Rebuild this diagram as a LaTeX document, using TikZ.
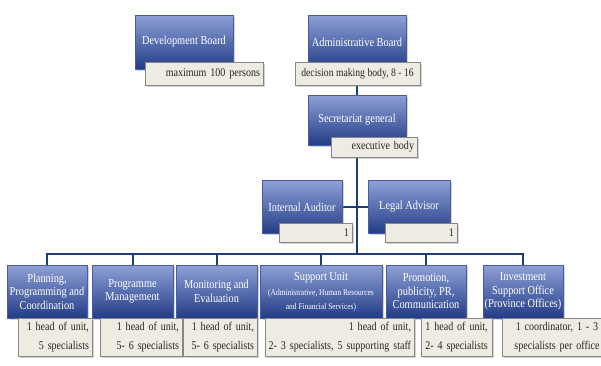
\documentclass[tikz,border=0pt]{standalone}
\usepackage{fontspec}
\setmainfont{Liberation Serif}[FakeStretch=0.85]
\usepackage{tikz}
\usetikzlibrary{positioning, shadows, backgrounds}
\definecolor{unittop}{RGB}{142,160,214}
\definecolor{unitbot}{RGB}{34,60,134}
\definecolor{unitedge}{RGB}{70,94,160}
\definecolor{notefill}{RGB}{237,235,226}
\definecolor{noteedge}{RGB}{135,135,135}
\definecolor{linkblue}{RGB}{30,60,120}
\tikzstyle{unit}=[draw=unitedge, top color=unittop, bottom color=unitbot, text=white, align=center, inner sep=1pt, font=\fontsize{12.2}{13.5}\selectfont, drop shadow={opacity=0.35, shadow xshift=1.5pt, shadow yshift=-1.5pt}]
\tikzstyle{note}=[draw=noteedge, fill=notefill, align=right, inner sep=3pt, text=black!85, font=\fontsize{11.8}{19}\selectfont, drop shadow={opacity=0.35, shadow xshift=1.5pt, shadow yshift=-1.5pt}]
\tikzstyle{link}=[draw=linkblue, line width=2pt]

\begin{document}
\begin{tikzpicture}[x=1pt, y=-1pt]
    \useasboundingbox (0,0) rectangle (601,365);

    % boards
    \node [unit, minimum width=98pt, minimum height=54pt] (dev) at (184,42) {Development Board};
    \node [unit, minimum width=98pt, minimum height=54pt] (adm) at (357,42) {Administrative Board};
    \node [note, text width=112pt, minimum height=23pt] (devnote) at (204,73.5) {maximum 100 persons};
    \node [note, minimum width=125pt, minimum height=23pt, font=\fontsize{11.4}{13}\selectfont] (admnote) at (357.5,73.5) {decision making body, 8 - 16};

    % secretariat
    \node [unit, minimum width=98pt, minimum height=50pt] (sec) at (357,120) {Secretariat general};
    \node [note, text width=80pt, minimum height=20pt] (secnote) at (374,147) {executive body};

    \node [unit, minimum width=80pt, minimum height=53pt] (aud) at (302,207) {Internal Auditor};
    \node [note, text width=67pt, minimum height=19pt] (audnote) at (315.5,232.5) {1};
    \node [unit, minimum width=82pt, minimum height=53pt] (leg) at (409,207) {Legal Advisor};
    \node [note, text width=66pt, minimum height=19pt] (legnote) at (421,232.5) {1};

    % units
    \node [unit, minimum width=80pt, minimum height=53pt] (u1) at (47,291.5) {Planning,\\Programming and\\Coordination};
    \node [unit, minimum width=81pt, minimum height=53pt] (u2) at (132.5,291.5) {Programme\\Management};
    \node [unit, minimum width=81pt, minimum height=53pt] (u3) at (216.5,291.5) {Monitoring and\\Evaluation};
    \node [unit, minimum width=122pt, minimum height=53pt] (u4) at (321,291.5) {Support Unit\\[2pt]\fontsize{8.8}{9.5}\selectfont (Administrative, Human Resources\\\fontsize{8.8}{9.5}\selectfont and Financial Services)};
    \node [unit, minimum width=80pt, minimum height=53pt] (u5) at (426,291.5) {Promotion,\\publicity, PR,\\Communication};
    \node [unit, minimum width=80pt, minimum height=53pt] (u6) at (523,291.5) {Investment\\Support Office\\(Province Offices)};

    \node [note, text width=68pt, minimum height=38pt] (n1) at (55,337) {1 head of unit,\\5 specialists};
    \node [note, text width=76pt, minimum height=38pt] (n2) at (141,337) {1 head of unit,\\5- 6 specialists};
    \node [note, text width=68pt, minimum height=38pt] (n3) at (220,337) {1 head of unit,\\5- 6 specialists};
    \node [note, text width=143pt, minimum height=38pt] (n4) at (339.5,337) {1 head of unit,\\2- 3 specialists, 5 supporting staff};
    \node [note, align=center, text width=65pt, minimum height=38pt] (n5) at (456.5,337) {1 head of unit,\\2- 4 specialists};
    \node [note, align=center, text width=104pt, minimum height=38pt] (n6) at (557,337) {1 coordinator, 1 - 3\\specialists per office};

    \coordinate (bus) at (357,254);

    \begin{scope}[on background layer]
        \draw [link] (adm) -- (sec);
        \draw [link] (sec) -- (bus);
        \draw [link] (aud) -- (leg);
        \foreach \u in {u1,u2,u3,u4,u5,u6}
            \draw [link] (\u.north) |- (bus);
    \end{scope}
\end{tikzpicture}
\end{document}
